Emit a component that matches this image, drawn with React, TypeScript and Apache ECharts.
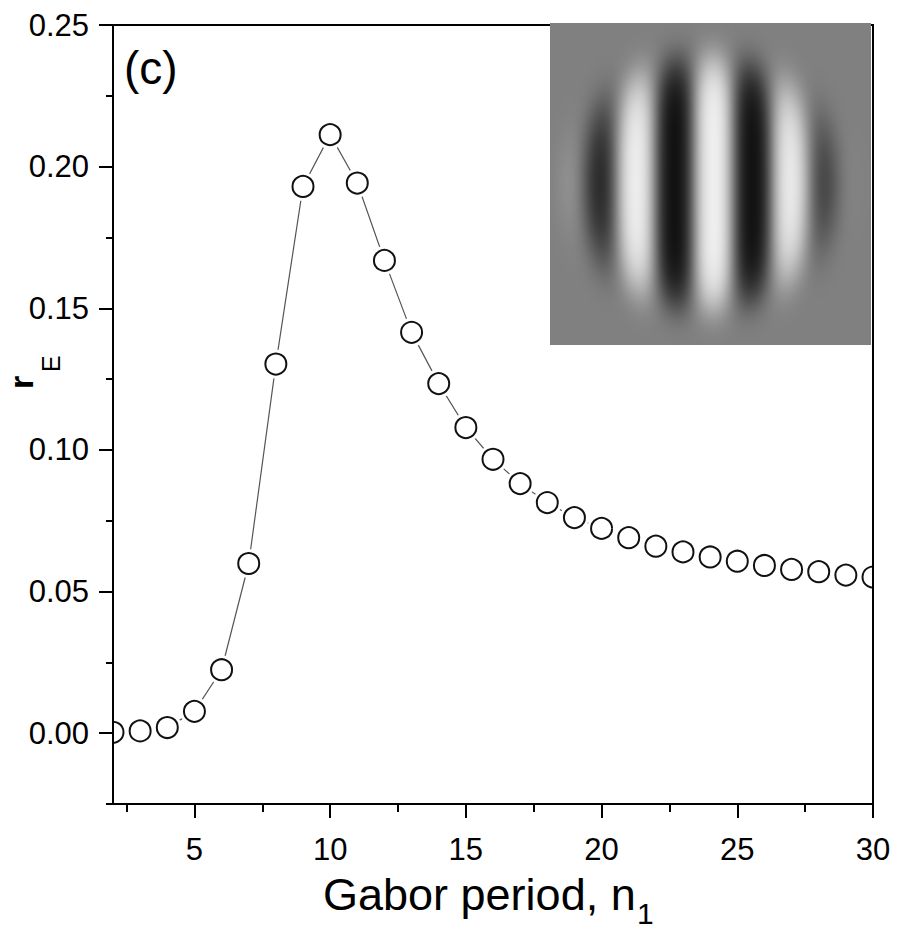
import React, { useEffect, useRef } from "react";
import * as echarts from "echarts";

// ---- data ----
const periods = [2, 3, 4, 5, 6, 7, 8, 9, 10, 11, 12, 13, 14, 15, 16, 17, 18, 19, 20, 21, 22, 23, 24, 25, 26, 27, 28, 29, 30];
const rE = [
  0.0003, 0.0008, 0.002, 0.0077, 0.0224, 0.0599, 0.1303, 0.193, 0.2113, 0.1942,
  0.1669, 0.1415, 0.1234, 0.1079, 0.0967, 0.0881, 0.0814, 0.0761, 0.0723, 0.069,
  0.066, 0.064, 0.0622, 0.0607, 0.0592, 0.0578, 0.057, 0.0558, 0.0551,
];
const xMajorTicks = [5, 10, 15, 20, 25, 30];
const xMinorTicks = [2.5, 7.5, 12.5, 17.5, 22.5, 27.5];
const yMajorTicks = [0, 0.05, 0.1, 0.15, 0.2, 0.25];
const yMinorTicks = [-0.025, 0.025, 0.075, 0.125, 0.175, 0.225];

const FONT = "'Liberation Sans', Arial, sans-serif";

function makeGaborImage(w: number, h: number): string {
  const c = document.createElement("canvas");
  c.width = w;
  c.height = h;
  const ctx = c.getContext("2d")!;
  const img = ctx.createImageData(w, h);
  const carrierX = 163, envX = 155, envY = 160, period = 78, R50 = 116, p = 6;
  const k = 1.0;
  const norm = Math.tanh(k);
  for (let y = 0; y < h; y++) {
    for (let x = 0; x < w; x++) {
      const dx = x - envX, dy = y - envY;
      const r = Math.sqrt(dx * dx + dy * dy);
      const a = Math.exp(-Math.LN2 * Math.pow(r / R50, p));
      const s = a * Math.cos((2 * Math.PI * (x - carrierX)) / period);
      let v = 128 + 110 * (Math.tanh(k * s) / norm);
      v = Math.max(0, Math.min(255, v));
      const i = (y * w + x) * 4;
      img.data[i] = v;
      img.data[i + 1] = v;
      img.data[i + 2] = v;
      img.data[i + 3] = 255;
    }
  }
  ctx.putImageData(img, 0, 0);
  return c.toDataURL();
}

export default function App() {
  const ref = useRef<HTMLDivElement>(null);
  useEffect(() => {
    if (!ref.current) return;
    const chart = echarts.init(ref.current, null, { renderer: "svg" });
    const pts = periods.map((p, i) => [p, rE[i]]);
    const gabor = makeGaborImage(321, 322);
    const lineStyleAxis = { color: "#000", width: 2 };
    chart.setOption({
      animation: false,
      backgroundColor: "#fff",
      textStyle: { fontFamily: FONT, color: "#000" },
      grid: {
        left: 113,
        right: 34,
        top: 25,
        bottom: 143,
        show: true,
        borderColor: "#000",
        borderWidth: 2,
        z: 20,
      },
      xAxis: [
        {
          type: "value",
          min: 2,
          max: 30,
          position: "bottom",
          z: 20,
          splitLine: { show: false },
          axisLine: { show: true, onZero: false, lineStyle: lineStyleAxis },
          axisTick: { show: true, customValues: xMajorTicks, length: 14, inside: false, lineStyle: lineStyleAxis },
          axisLabel: {
            customValues: xMajorTicks,
            fontSize: 31,
            margin: 30,
            color: "#000",
            fontFamily: FONT,
          },
        },
        {
          type: "value",
          min: 2,
          max: 30,
          position: "bottom",
          z: 20,
          splitLine: { show: false },
          axisLine: { show: false, onZero: false },
          axisTick: { show: true, customValues: xMinorTicks, length: 8, inside: false, lineStyle: lineStyleAxis },
          axisLabel: { show: false },
        },
      ],
      yAxis: [
        {
          type: "value",
          min: -0.025,
          max: 0.25,
          position: "left",
          z: 20,
          splitLine: { show: false },
          axisLine: { show: true, onZero: false, lineStyle: lineStyleAxis },
          axisTick: { show: true, customValues: yMajorTicks, length: 14, inside: false, lineStyle: lineStyleAxis },
          axisLabel: {
            customValues: yMajorTicks,
            fontSize: 31,
            margin: 24,
            color: "#000",
            fontFamily: FONT,
            formatter: (v: number) => v.toFixed(2),
          },
        },
        {
          type: "value",
          min: -0.025,
          max: 0.25,
          position: "left",
          z: 20,
          splitLine: { show: false },
          axisLine: { show: false, onZero: false },
          axisTick: { show: true, customValues: yMinorTicks, length: 7, inside: false, lineStyle: lineStyleAxis },
          axisLabel: { show: false },
        },
      ],
      series: [
        {
          type: "line",
          data: pts,
          xAxisIndex: 0,
          yAxisIndex: 0,
          z: 1,
          showSymbol: false,
          symbol: "none",
          lineStyle: { color: "#555", width: 1.2 },
          clip: true,
        },
        {
          type: "custom",
          data: pts,
          xAxisIndex: 0,
          yAxisIndex: 0,
          z: 3,
          clip: true,
          encode: { x: 0, y: 1 },
          renderItem: (params: any, api: any) => {
            const c = api.coord([api.value(0), api.value(1)]);
            return {
              type: "circle",
              shape: { cx: c[0], cy: c[1], r: 14.5 },
              style: { fill: "#ffffff", stroke: "#ffffff", lineWidth: 0 },
            };
          },
        },
        {
          type: "custom",
          data: pts,
          xAxisIndex: 0,
          yAxisIndex: 0,
          z: 4,
          clip: true,
          encode: { x: 0, y: 1 },
          renderItem: (params: any, api: any) => {
            const c = api.coord([api.value(0), api.value(1)]);
            return {
              type: "circle",
              shape: { cx: c[0], cy: c[1], r: 10.5 },
              style: { fill: "#ffffff", stroke: "#111111", lineWidth: 2 },
            };
          },
        },
      ],
      graphic: [
        // masks that hide the parts of edge markers outside the plot area
        { type: "rect", z: 10, shape: { x: 0, y: 700, width: 112, height: 70 }, style: { fill: "#fff" } },
        { type: "rect", z: 10, shape: { x: 874, y: 540, width: 33, height: 70 }, style: { fill: "#fff" } },
        {
          type: "image",
          x: 550,
          y: 23,
          z: 100,
          style: { image: gabor, width: 321, height: 322 },
        },
        {
          type: "text",
          x: 124,
          y: 67.5,
          z: 100,
          style: { text: "(c)", fontSize: 46, fontFamily: FONT, fill: "#000", align: "left", verticalAlign: "middle" },
        },
        {
          type: "text",
          x: 21,
          y: 389,
          rotation: Math.PI / 2,
          z: 100,
          style: { text: "r", fontSize: 34, fontWeight: "bold", fontFamily: FONT, fill: "#000", align: "left", verticalAlign: "middle" },
        },
        {
          type: "text",
          x: 51,
          y: 372,
          rotation: Math.PI / 2,
          z: 100,
          style: { text: "E", fontSize: 25, fontFamily: FONT, fill: "#000", align: "left", verticalAlign: "middle" },
        },
        {
          type: "text",
          x: 323,
          y: 872,
          z: 100,
          style: { text: "Gabor period, n", fontSize: 45, fontFamily: FONT, fill: "#000", align: "left", verticalAlign: "top" },
        },
        {
          type: "text",
          x: 637,
          y: 898,
          z: 100,
          style: { text: "1", fontSize: 30, fontFamily: FONT, fill: "#000", align: "left", verticalAlign: "top" },
        },
      ],
    });
    return () => chart.dispose();
  }, []);
  return <div ref={ref} style={{ position: "fixed", left: 0, top: 0, width: 907, height: 947 }} />;
}
